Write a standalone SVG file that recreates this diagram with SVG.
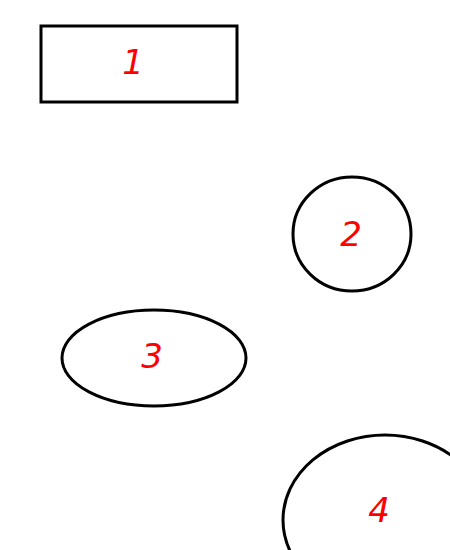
<svg xmlns="http://www.w3.org/2000/svg" width="450" height="550" viewBox="0 0 450 550">
<style>
.s{fill:#fff;stroke:#000;stroke-width:3}
.t{font-family:"DejaVu Sans","Liberation Sans",sans-serif;font-style:italic;font-size:34px;fill:#f00;text-anchor:middle;dominant-baseline:central}
</style>
<rect width="450" height="550" fill="#fff"/>
<g id="node1"><rect class="s" x="41" y="26" width="196" height="76"/><text class="t" x="133" y="62">1</text></g>
<g id="node2"><ellipse class="s" cx="352" cy="234" rx="59" ry="57"/><text class="t" x="351" y="234">2</text></g>
<g id="node3"><ellipse class="s" cx="154" cy="358" rx="92" ry="48"/><text class="t" x="152" y="356">3</text></g>
<g id="node4"><ellipse class="s" cx="385" cy="520" rx="102" ry="85"/><text class="t" x="379" y="510">4</text></g>
<g id="connectors"></g>
</svg>
